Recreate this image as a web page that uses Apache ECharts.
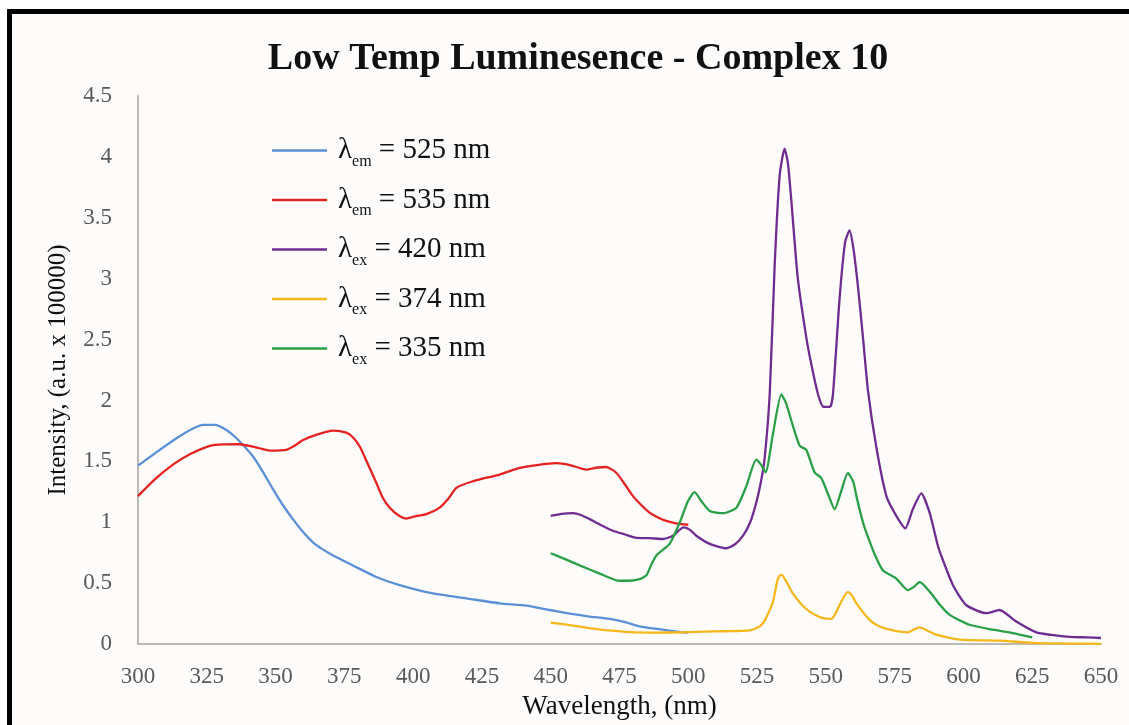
<!DOCTYPE html>
<html lang="en">
<head>
<meta charset="UTF-8">
<title>Low Temp Luminesence - Complex 10</title>
<script src="https://cdn.jsdelivr.net/npm/echarts@6/dist/echarts.min.js"></script>
<style>
  html, body { margin: 0; padding: 0; background: #ffffff; overflow: hidden; width: 1129px; height: 725px; }
  #frame {
    position: absolute; left: 7px; top: 9px; width: 1122px; height: 716px;
    box-sizing: border-box;
    background: #fdfcfa;
    border-left: 5px solid #000; border-top: 5px solid #000;
  }
  #main { position: absolute; left: 0; top: 0; width: 1129px; height: 725px; }
</style>
</head>
<body>
<div id="frame"></div>
<div id="main"></div>
<script>
// wavelength (nm), intensity (a.u. x 100000)
var em525 = [[300,1.465],[307,1.58],[314,1.69],[320,1.77],[323.6,1.80],[327.9,1.80],[332,1.76],[335.8,1.69],
  [341.8,1.54],[345.5,1.41],[349.1,1.27],[352.7,1.14],[356.3,1.026],[360,0.92],[363.6,0.836],[367,0.78],
  [370.9,0.728],[378.1,0.646],[386.6,0.551],[395.1,0.484],[407.2,0.416],[419.3,0.376],[431.4,0.335],
  [441.1,0.315],[449.6,0.28],[457,0.25],[464.1,0.226],[471.4,0.207],[477,0.18],[482.3,0.145],[490,0.12],
  [497,0.099],[500,0.095]];

var em535 = [[300,1.215],[306,1.35],[312.7,1.473],[319,1.56],[326.1,1.628],[331,1.64],[337,1.641],[341,1.625],
  [344.2,1.608],[347.9,1.589],[353.9,1.595],[357,1.63],[360,1.676],[365,1.72],[370.9,1.752],[375.7,1.736],
  [378,1.70],[380.6,1.622],[383.5,1.48],[386.6,1.324],[389,1.20],[391.5,1.12],[394.5,1.06],[397.5,1.031],
  [401,1.05],[404.8,1.067],[409.6,1.12],[413,1.2],[415.7,1.283],[421.7,1.337],[431.4,1.392],[438.7,1.446],
  [445,1.47],[452,1.486],[457,1.47],[462.9,1.433],[467,1.45],[470.2,1.454],[473.9,1.405],[477,1.31],
  [479.9,1.215],[483,1.14],[485.9,1.08],[489,1.04],[492,1.012],[496,0.99],[500,0.98]];

var ex420 = [[450,1.053],[454,1.07],[458.1,1.075],[461,1.06],[464.1,1.026],[468,0.98],[472.6,0.931],[477,0.9],
  [481.1,0.872],[486,0.87],[490.8,0.863],[494.4,0.89],[498.3,0.958],[500.5,0.94],[502.9,0.89],[507.8,0.823],
  [513.8,0.787],[517,0.82],[519.9,0.89],[522.5,1.0],[524.7,1.161],[526.3,1.32],[527.7,1.514],[529.6,2.055],
  [531.4,3.112],[533.2,3.844],[535,4.067],[536.2,3.95],[537.4,3.655],[539.8,3.004],[542.9,2.516],[544.7,2.299],
  [547.1,2.055],[549,1.95],[551.5,1.947],[552.6,2.055],[555,2.841],[557,3.3],[558.6,3.397],[560,3.25],
  [561.6,2.95],[563.5,2.516],[565.3,2.083],[568.3,1.622],[572,1.215],[575.6,1.053],[578.9,0.95],[581.6,1.107],
  [584.7,1.237],[587.7,1.08],[590.7,0.809],[591.9,0.728],[596.2,0.484],[601,0.321],[608.3,0.254],[613.1,0.28],
  [619.2,0.185],[626.5,0.096],[632,0.075],[638.6,0.059],[645,0.055],[650,0.05]];

var ex374 = [[450,0.177],[457,0.155],[464.1,0.132],[471,0.113],[478.7,0.099],[488,0.095],[496.9,0.096],
  [508.9,0.104],[516,0.107],[522.3,0.112],[525.9,0.145],[527.7,0.19],[529.6,0.28],[530.8,0.348],[532.6,0.54],
  [533.8,0.571],[535.5,0.52],[538,0.416],[541,0.33],[544.1,0.267],[548.3,0.218],[552,0.207],[553.5,0.25],
  [555,0.321],[558,0.429],[559.5,0.40],[561.1,0.335],[565.9,0.199],[569,0.15],[573.2,0.118],[579.8,0.096],
  [582,0.12],[584.1,0.137],[587,0.11],[590.1,0.077],[598.6,0.037],[613.1,0.028],[625.2,0.01],[637,0.005],
  [650,0.002]];

var ex335 = [[450,0.746],[455,0.7],[460.5,0.646],[467.8,0.579],[473.9,0.524],[478,0.52],[482.3,0.533],
  [484.8,0.565],[486.5,0.65],[488.4,0.728],[493.2,0.823],[496.9,0.998],[499.9,1.175],[502.3,1.248],
  [504.7,1.175],[507.8,1.093],[512.6,1.075],[517.5,1.12],[521.1,1.297],[524.7,1.514],[526.5,1.47],
  [528.1,1.41],[530.8,1.73],[533.8,2.05],[535.5,1.98],[537.4,1.839],[540.5,1.628],[542.9,1.595],[545.9,1.41],
  [548.3,1.364],[551,1.22],[553.2,1.107],[555.5,1.25],[558,1.405],[560,1.33],[561.1,1.215],[563.5,0.998],
  [564.7,0.917],[567.5,0.75],[570.7,0.606],[575.6,0.538],[579.8,0.443],[582,0.47],[584.1,0.51],[588.3,0.416],
  [591.5,0.32],[595,0.24],[602.2,0.159],[610.7,0.118],[618,0.091],[625,0.055]];

var seriesNames = ['em525', 'em535', 'ex420', 'ex374', 'ex335'];
var legendSub = { em525: ['em', '525'], em535: ['em', '535'], ex420: ['ex', '420'], ex374: ['ex', '374'], ex335: ['ex', '335'] };
var seriesData = { em525: em525, em535: em535, ex420: ex420, ex374: ex374, ex335: ex335 };
var colors = ['#5b8fd6', '#e52222', '#6f2c91', '#f5b81c', '#2a9f47'];

var serif = "'Liberation Serif', 'Times New Roman', serif";
var myChart = echarts.init(document.getElementById('main'));

var option = {
  backgroundColor: 'transparent',
  animation: false,
  color: colors,
  title: {
    text: 'Low Temp Luminesence - Complex 10',
    left: 573,
    top: 35,
    textAlign: 'center',
    textStyle: { fontFamily: serif, fontWeight: 'bold', fontSize: 38, color: '#111' }
  },
  legend: {
    orient: 'vertical',
    left: 272,
    top: 136,
    padding: 0,
    icon: 'rect',
    itemWidth: 55,
    itemHeight: 2.5,
    itemGap: 16,
    data: seriesNames,
    formatter: function (name) {
      var s = legendSub[name];
      return '{l|λ}{s|' + s[0] + '}{t| = ' + s[1] + ' nm}';
    },
    textStyle: {
      fontFamily: serif,
      color: '#111',
      rich: {
        l: { fontFamily: serif, fontSize: 29, color: '#111', lineHeight: 38, padding: [0, 0, 0, 6] },
        s: { fontFamily: serif, fontSize: 16, color: '#111', lineHeight: 4, verticalAlign: 'bottom' },
        t: { fontFamily: serif, fontSize: 29, color: '#111', lineHeight: 38 }
      }
    }
  },
  grid: { left: 138, top: 96, right: 28, bottom: 75, containLabel: false },
  xAxis: {
    type: 'value',
    min: 300,
    max: 650,
    interval: 25,
    name: 'Wavelength, (nm)',
    nameLocation: 'middle',
    nameGap: 44,
    nameTextStyle: { fontFamily: serif, fontSize: 27, color: '#111' },
    axisLine: { show: true, lineStyle: { color: '#bdb9b6', width: 2 } },
    axisTick: { show: false },
    splitLine: { show: false },
    axisLabel: { fontFamily: serif, fontSize: 23, color: '#595959', margin: 21 }
  },
  yAxis: {
    type: 'value',
    min: 0,
    max: 4.5,
    interval: 0.5,
    name: 'Intensity, (a.u. x 100000)',
    nameLocation: 'middle',
    nameRotate: 90,
    nameGap: 67,
    nameTextStyle: { fontFamily: serif, fontSize: 25, color: '#111' },
    axisLine: { show: true, lineStyle: { color: '#bdb9b6', width: 2 } },
    axisTick: { show: false },
    splitLine: { show: false },
    axisLabel: { fontFamily: serif, fontSize: 23, color: '#595959', margin: 26 }
  },
  series: seriesNames.map(function (n) {
    return {
      name: n,
      type: 'line',
      data: seriesData[n],
      symbol: 'none',
      smooth: 0.2,
      lineStyle: { width: 2.3 }
    };
  })
};
myChart.setOption(option);
</script>
</body>
</html>
